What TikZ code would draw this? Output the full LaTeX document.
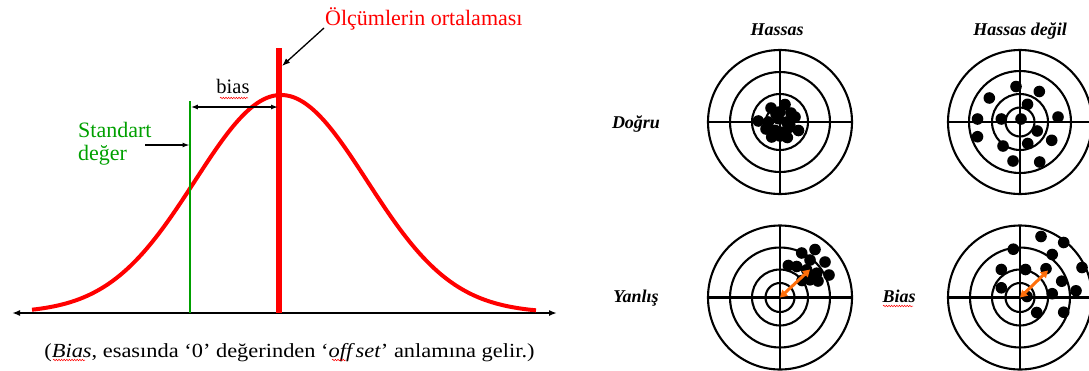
\documentclass[tikz,border=0pt]{standalone}
\usepackage{fontspec}
\setmainfont{Liberation Serif}
\newfontfamily\widefont[FakeStretch=1.12]{Liberation Serif}
\usetikzlibrary{arrows.meta,decorations.pathmorphing}
\definecolor{cred}{RGB}{255,0,0}
\definecolor{cgreen}{RGB}{0,160,0}
\definecolor{corange}{RGB}{255,110,10}
\begin{document}
\begin{tikzpicture}[x=1pt,y=-1pt,
  ring/.style={line width=2.1pt},
  dotb/.style={fill=black},
  lbl/.style={font=\fontsize{18}{20}\selectfont\bfseries\itshape, inner sep=0pt},
  txt/.style={inner sep=0pt},
  squig/.style={cred, line width=0.5pt, decorate, decoration={snake,amplitude=0.8pt,segment length=2.6pt}},
  thinarrow/.style={line width=1.3pt},
  orangearrow/.style={corange, line width=3pt, {Triangle[length=7pt,width=8pt]}-{Triangle[length=7pt,width=8pt]}}
]
\useasboundingbox (0,0) rectangle (1089,370);
\clip (0,0) rectangle (1089,370);

% ---------- left: distribution ----------
\coordinate (axL) at (12,313);
\coordinate (axR) at (557,313);
\draw[line width=2.5pt, {Latex[length=8pt,width=6pt]}-{Latex[length=8pt,width=6pt]}] (axL) -- (axR);

\draw[cred, line width=4pt] plot[domain=32:536, samples=120, smooth] (\x, {313 - 218*exp(-0.5*((\x-281)/86)^2)});

\coordinate (gtop) at (190,101);
\coordinate (gbot) at (190,313);
\draw[cgreen, line width=1.5pt] (gtop) -- (gbot);

\coordinate (rtop) at (279,48);
\coordinate (rbot) at (279,313);
\draw[cred, line width=5.5pt] (rtop) -- (rbot);

% bias arrow
\coordinate (bL) at (190.8,107);
\coordinate (bR) at (278,107);
\draw[thinarrow, {Latex[length=7pt,width=5pt]}-{Latex[length=7pt,width=5pt]}] (bL) -- (bR);
\node[txt, anchor=base, font=\fontsize{20.5}{22}\selectfont] (bias) at (233,93) {bias};
\draw[squig] (220,98) -- (248,98);

% Standart deger
\node[txt, anchor=base west, text=cgreen, font=\fontsize{22}{24}\selectfont] (std1) at (78,137) {Standart};
\node[txt, anchor=base west, text=cgreen, font=\fontsize{22}{24}\selectfont] (std2) at (78,160) {değer};
\coordinate (sa1) at (145,145);
\coordinate (sa2) at (189.5,145);
\draw[thinarrow, -{Latex[length=7pt,width=5pt]}] (sa1) -- (sa2);

% Olcumlerin ortalamasi
\node[txt, anchor=base west, text=cred, font=\fontsize{22}{24}\selectfont] (ort) at (325,25) {Ölçümlerin ortalaması};
\coordinate (oa1) at (324,28);
\coordinate (oa2) at (282,66);
\draw[thinarrow, -{Latex[length=8pt,width=6pt]}] (oa1) -- (oa2);

% bottom note
\node[txt, anchor=base, font=\widefont\fontsize{20}{22}\selectfont] (note) at (289.5,357) {(\textit{Bias}, esasında ‘0’ değerinden ‘\textit{off\,set}’ anlamına gelir.)};
\draw[squig] (53,360) -- (85,360);
\draw[squig] (332,360) -- (346,360);

% ---------- right: targets ----------
\node[lbl, anchor=base] (h1) at (777,35) {Hassas};
\node[lbl, anchor=base] (h2) at (1020,35) {Hassas değil};
\node[lbl, anchor=base] (dg) at (636,128) {Doğru};
\node[lbl, anchor=base] (yn) at (636,302) {Yanlış};
\node[lbl, anchor=base] (bs) at (899,302) {Bias};
\draw[squig] (883,306) -- (913,306);

% target 1: top-left
\begin{scope}[shift={(780,122)}]
  \foreach \r in {72,50,28,14.5} \draw[ring] (0,0) circle[radius=\r];
  \draw[ring] (-72,0) -- (72,0) (0,-72) -- (0,72);
  \foreach \a/\b in {5/-17.5,-9/-14,15/-5,18.5/8.5,-21.7/-1,-8.3/15,7.3/15.5,-11.7/0,-1.7/-3.3,6.7/0,-5/8.3,3.3/10,0/-10,10/5,-4/-8,11/-9,-14/7,0/14}
    \fill[dotb] (\a,\b) circle[radius=5.8];
\end{scope}

% target 2: top-right
\begin{scope}[shift={(1020,122)}]
  \foreach \r in {72,51,28,14.5} \draw[ring] (0,0) circle[radius=\r];
  \draw[ring] (-72,0) -- (72,0) (0,-72) -- (0,72);
  \foreach \a/\b in {-4/-35.5,19.3/-30.5,-30.7/-24,7.5/-17.7,38/-5,-42.5/-3,-18.7/-3,1/-3,17.2/9,-42.5/14.7,31.7/18.3,-17/24,7.7/21.5,-7/39,19.7/40}
    \fill[dotb] (\a,\b) circle[radius=5.8];
\end{scope}

% target 3: bottom-left
\begin{scope}[shift={(780,297.5)}]
  \foreach \r in {72,50,28,14.5} \draw[ring] (0,0) circle[radius=\r];
  \draw[ring] (-72,0) -- (72,0) (0,-72) -- (0,72);
  \foreach \a/\b in {35/-48,21.7/-44.5,8.3/-32,45/-35.5,49/-22.5,38/-16.5,22/-17,30/-37.5,16.7/-31,26.7/-27.7,36.7/-24.3,30/-17.7}
    \fill[dotb] (\a,\b) circle[radius=5.8];
  \coordinate (c3) at (0,0);
  \coordinate (e3) at (30,-28);
  \draw[orangearrow] (c3) -- (e3);
\end{scope}

% target 4: bottom-right
\begin{scope}[shift={(1020,297.5)}]
  \foreach \r in {72,50,28,14.5} \draw[ring] (0,0) circle[radius=\r];
  \draw[ring] (-72,0) -- (72,0) (0,-72) -- (0,72);
  \foreach \a/\b in {21/-61,43.7/-55,-6.7/-48.3,32.2/-43,62/-30,-18.7/-28,5.5/-28,26/-28.8,41.7/-16.3,-18.7/-9.7,56/-6.7,32.2/-3.8,7/-1,16.7/15,43.7/14.7}
    \fill[dotb] (\a,\b) circle[radius=5.8];
  \coordinate (c4) at (0,0);
  \coordinate (e4) at (28,-27);
  \draw[orangearrow] (c4) -- (e4);
\end{scope}
\end{tikzpicture}
\end{document}
